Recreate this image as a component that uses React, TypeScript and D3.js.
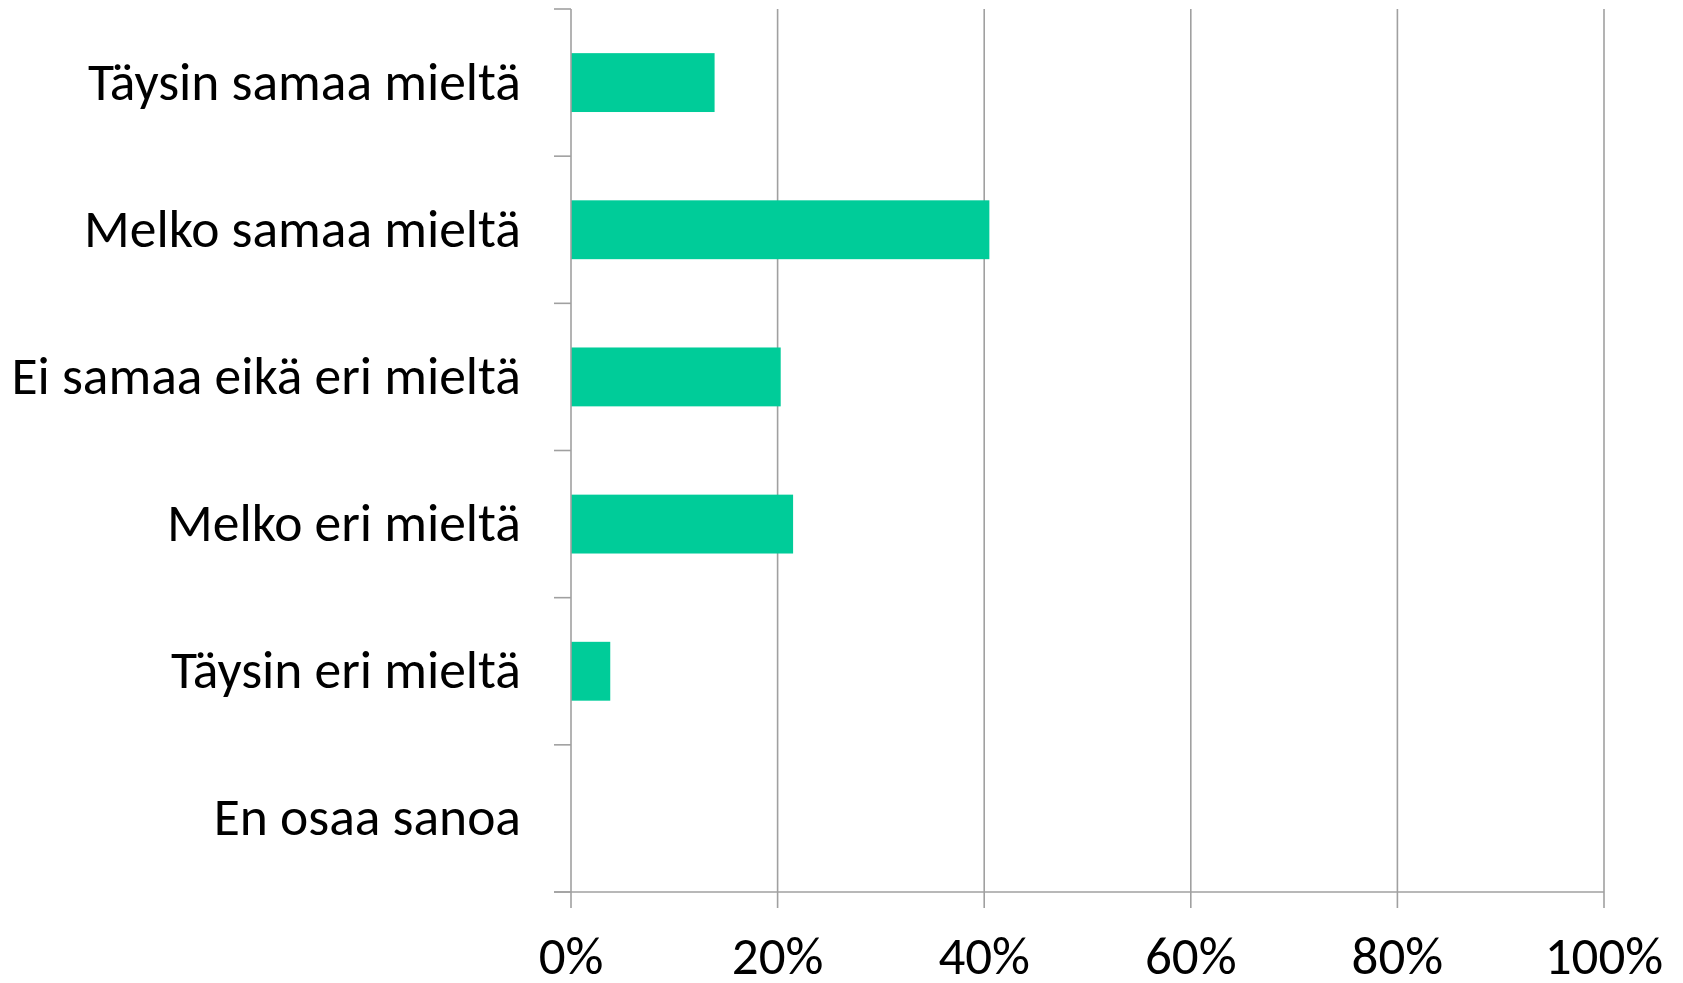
import React from "react";
import * as d3 from "d3";

const categories = [
  "Täysin samaa mieltä",
  "Melko samaa mieltä",
  "Ei samaa eikä eri mieltä",
  "Melko eri mieltä",
  "Täysin eri mieltä",
  "En osaa sanoa",
];
const values = [0.139, 0.405, 0.203, 0.215, 0.038, 0];
const xTicks = [0, 0.2, 0.4, 0.6, 0.8, 1.0];

const W = 1683;
const H = 983;
const left = 571;
const right = 1604;
const top = 9;
const bottom = 892;
const FONT = "Calibri, Carlito, 'Open Sans', sans-serif";
const GRID = "#a0a0a0";

export default function App() {
  const x = d3.scaleLinear().domain([0, 1]).range([left, right]);
  const y = d3.scaleBand<string>().domain(categories).range([top, bottom]).paddingInner(0).paddingOuter(0);
  const step = y.step();
  const barH = step * 0.4;
  const boundaries = d3.range(categories.length + 1).map((i) => top + i * step);

  return (
    <div style={{ position: "absolute", left: 0, top: 0 }}>
      <svg width={W} height={H} style={{ display: "block", background: "#fff" }}>
        {xTicks.slice(1).map((t) => (
          <line key={"g" + t} x1={x(t)} x2={x(t)} y1={top} y2={bottom + 16} stroke={GRID} strokeWidth={1.6} />
        ))}
        {categories.map((c, i) => (
          <rect
            key={c}
            x={x(0)}
            y={(y(c) as number) + (step - barH) / 2}
            width={x(values[i]) - x(0)}
            height={barH}
            fill="#00cc99"
          />
        ))}
        <line x1={left} x2={left} y1={top} y2={bottom + 16} stroke={GRID} strokeWidth={1.6} />
        {boundaries.map((b, i) => (
          <line key={"t" + i} x1={left - 17} x2={left} y1={b} y2={b} stroke={GRID} strokeWidth={1.6} />
        ))}
        <line x1={left - 17} x2={right} y1={bottom} y2={bottom} stroke={GRID} strokeWidth={1.6} />
        {categories.map((c) => (
          <text
            key={"l" + c}
            x={521}
            y={(y(c) as number) + step / 2 + 17}
            textAnchor="end"
            fontFamily={FONT}
            fontSize={53.5}
            fill="#000"
          >
            {c}
          </text>
        ))}
        {xTicks.map((t) => (
          <text
            key={"x" + t}
            x={x(t)}
            y={974}
            textAnchor="middle"
            fontFamily={FONT}
            fontSize={53}
            fill="#000"
          >
            {d3.format(".0%")(t)}
          </text>
        ))}
      </svg>
    </div>
  );
}
